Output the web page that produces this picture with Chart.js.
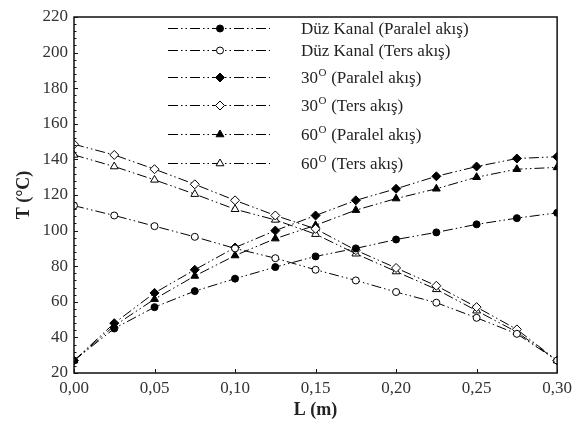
<!DOCTYPE html>
<html lang="tr">
<head>
  <meta charset="UTF-8" />
  <title>T - L</title>
  <script src="https://cdn.jsdelivr.net/npm/chart.js"></script>
  <style>
    body {
      margin: 0;
      background: #fff;
    }
    #wrap {
      width: 577px;
      height: 439px;
    }
  </style>
</head>
<body>
  <div id="wrap">
    <canvas id="tChart" width="577" height="439"></canvas>
  </div>

  <script>
    // L (m) positions along the channel
    const L = [0, 0.025, 0.05, 0.075, 0.1, 0.125, 0.15, 0.175, 0.2, 0.225, 0.25, 0.275, 0.3];

    // temperatures (°C)
    const duzParalel = [27, 45, 57, 66, 73, 79.5, 85.5, 90, 95, 99, 103.5, 107, 110];
    const duzTers = [114, 108.5, 102.5, 96.5, 90, 84.5, 78, 72, 65.5, 59.5, 51, 42, 27];
    const otuzParalel = [27, 48, 65, 78, 90.5, 100, 108.5, 117, 123.5, 130.5, 136, 140.5, 141.5];
    const otuzTers = [148.5, 142.5, 134.5, 126, 117, 108.5, 101, 89, 79, 69, 57, 44.5, 27];
    const altmisParalel = [27, 46.5, 61.5, 74.5, 86, 95.5, 103, 111.5, 118, 123.5, 130, 134.5, 135.5];
    const altmisTers = [142.5, 136, 128.5, 120.5, 112, 106, 98, 87, 77, 67, 55, 43, 27];

    const labels = [
      'Düz Kanal (Paralel akış)',
      'Düz Kanal (Ters akış)',
      '30° (Paralel akış)',
      '30° (Ters akış)',
      '60° (Paralel akış)',
      '60° (Ters akış)'
    ];

    const yTicks = [20, 40, 60, 80, 100, 120, 140, 160, 180, 200, 220];
    const xTicks = [0, 0.05, 0.1, 0.15, 0.2, 0.25, 0.3];

    const serif = "'Liberation Serif', 'Times New Roman', serif";
    const dash = [10, 3, 1.5, 3, 1.5, 3];

    function pts(arr) {
      return arr.map((v, i) => ({ x: L[i], y: v }));
    }

    function series(label, arr, style, filled, radius) {
      return {
        label: label,
        data: pts(arr),
        borderColor: '#000',
        borderWidth: 1,
        borderDash: dash,
        pointStyle: style,
        pointRadius: radius,
        pointBorderWidth: 1,
        pointBorderColor: '#000',
        pointBackgroundColor: filled ? '#000' : '#fff',
        fill: false,
        tension: 0
      };
    }

    // frame + inward ticks
    const framePlugin = {
      id: 'frame',
      afterDraw(chart) {
        const ctx = chart.ctx;
        const a = chart.chartArea;
        const xs = chart.scales.x;
        const ys = chart.scales.y;
        ctx.save();
        ctx.strokeStyle = '#111';
        ctx.lineWidth = 1.5;
        ctx.beginPath();
        ctx.rect(a.left, a.top, a.right - a.left, a.bottom - a.top);
        ctx.stroke();

        ctx.lineWidth = 1;
        ctx.beginPath();
        for (let v = 20; v <= 220; v += 4) {
          const y = Math.round(ys.getPixelForValue(v)) + 0.5;
          const len = (v % 20 === 0) ? 4 : 2.5;
          ctx.moveTo(a.left, y);
          ctx.lineTo(a.left + len, y);
        }
        xTicks.forEach(v => {
          const x = Math.round(xs.getPixelForValue(v)) + 0.5;
          ctx.moveTo(x, a.bottom);
          ctx.lineTo(x, a.bottom - 4);
        });
        ctx.stroke();
        ctx.restore();
      }
    };

    function marker(ctx, style, filled, r, x, y) {
      ctx.beginPath();
      if (style === 'circle') {
        ctx.arc(x, y, r, 0, Math.PI * 2);
      } else if (style === 'rectRot') {
        ctx.moveTo(x, y - r);
        ctx.lineTo(x + r, y);
        ctx.lineTo(x, y + r);
        ctx.lineTo(x - r, y);
        ctx.closePath();
      } else {
        ctx.moveTo(x, y - r);
        ctx.lineTo(x + r * 0.87, y + r * 0.5);
        ctx.lineTo(x - r * 0.87, y + r * 0.5);
        ctx.closePath();
      }
      ctx.fillStyle = filled ? '#000' : '#fff';
      ctx.fill();
      ctx.lineWidth = 1;
      ctx.setLineDash([]);
      ctx.strokeStyle = '#000';
      ctx.stroke();
    }

    // legend drawn inside the plot, as in the figure
    const legendRows = [28, 50, 77, 105, 134, 163];
    const legendPlugin = {
      id: 'innerLegend',
      afterDraw(chart) {
        const ctx = chart.ctx;
        ctx.save();
        chart.data.datasets.forEach((ds, i) => {
          const y = legendRows[i] + 0.5;
          ctx.strokeStyle = '#000';
          ctx.lineWidth = 1;
          ctx.setLineDash(ds.borderDash);
          ctx.beginPath();
          ctx.moveTo(168, y);
          ctx.lineTo(270, y);
          ctx.stroke();
          marker(ctx, ds.pointStyle, ds.pointBackgroundColor === '#000', ds.pointRadius, 220, y);

          ctx.fillStyle = '#222';
          ctx.textBaseline = 'middle';
          ctx.textAlign = 'left';
          const parts = ds.label.split('°');
          let x = 301;
          ctx.font = '17px ' + serif;
          ctx.fillText(parts[0], x, y + 1);
          x += ctx.measureText(parts[0]).width;
          if (parts.length > 1) {
            ctx.font = '11px ' + serif;
            ctx.fillText('O', x + 0.5, y - 4);
            x += ctx.measureText('O').width + 1;
            ctx.font = '17px ' + serif;
            ctx.fillText(parts[1], x, y + 1);
          }
        });
        ctx.restore();
      }
    };

    new Chart(document.getElementById('tChart'), {
      type: 'line',
      data: {
        datasets: [
          series(labels[0], duzParalel, 'circle', true, 3.5),
          series(labels[1], duzTers, 'circle', false, 3.5),
          series(labels[2], otuzParalel, 'rectRot', true, 4.5),
          series(labels[3], otuzTers, 'rectRot', false, 4.5),
          series(labels[4], altmisParalel, 'triangle', true, 4.5),
          series(labels[5], altmisTers, 'triangle', false, 4.5)
        ]
      },
      options: {
        responsive: false,
        animation: false,
        devicePixelRatio: 1,
        layout: { padding: { top: 17, right: 16, left: 0, bottom: 0 } },
        plugins: {
          legend: { display: false },
          tooltip: { enabled: false }
        },
        scales: {
          x: {
            type: 'linear',
            min: 0,
            max: 0.3,
            afterFit(scale) { scale.height = 66; },
            afterBuildTicks(scale) { scale.ticks = xTicks.map(v => ({ value: v })); },
            grid: { display: false, drawTicks: false },
            border: { display: false },
            ticks: {
              padding: 5,
              color: '#333',
              font: { family: serif, size: 17 },
              callback: v => v.toFixed(2).replace('.', ',')
            },
            title: {
              display: true,
              text: 'L (m)',
              color: '#222',
              font: { family: serif, size: 18, weight: 'bold' },
              padding: { top: 0, bottom: 18 }
            }
          },
          y: {
            min: 20,
            max: 220,
            afterFit(scale) { scale.width = 74; },
            afterBuildTicks(scale) { scale.ticks = yTicks.map(v => ({ value: v })); },
            grid: { display: false, drawTicks: false },
            border: { display: false },
            ticks: {
              padding: 6,
              color: '#333',
              font: { family: serif, size: 17 }
            },
            title: {
              display: true,
              text: 'T (°C)',
              color: '#222',
              font: { family: serif, size: 18, weight: 'bold' },
              padding: { top: 14, bottom: 0 }
            }
          }
        }
      },
      plugins: [framePlugin, legendPlugin]
    });
  </script>
</body>
</html>
